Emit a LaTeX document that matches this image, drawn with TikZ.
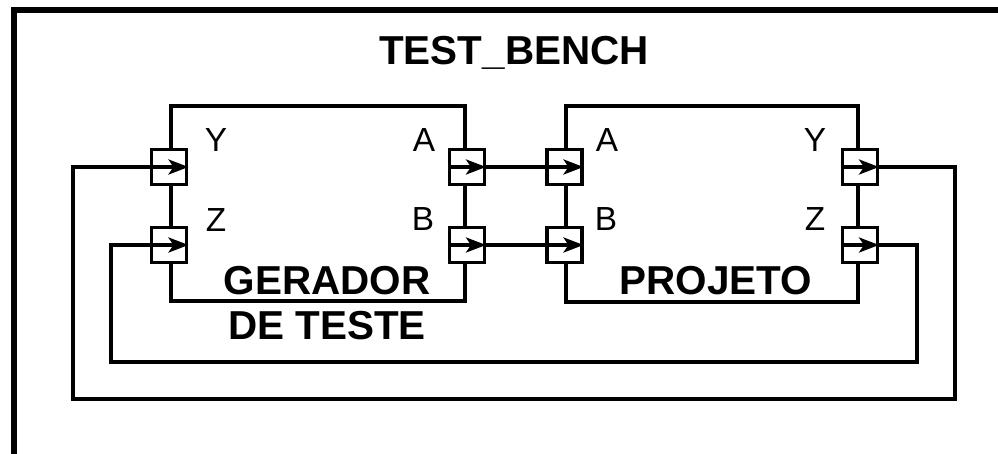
\documentclass[tikz,border=0pt]{standalone}
\usepackage{fontspec}
\setmainfont{Liberation Sans}
\usepackage{tikz}
\usetikzlibrary{arrows.meta, positioning, calc}

\begin{document}
\begin{tikzpicture}[x=0.2mm, y=-0.2mm, line width=2pt,
    box/.style={rectangle, draw, line width=2pt},
    port/.style={rectangle, draw, fill=white, minimum size=7mm, inner sep=0pt, line width=2pt},
    lbl/.style={inner sep=0pt, font=\fontsize{19}{22}\selectfont},
    blockname/.style={inner sep=0pt, align=center, font=\fontsize{23}{26}\selectfont\bfseries},
    sig/.style={-{Stealth[length=4mm, width=3mm, inset=1mm]}}]

    \useasboundingbox (0,0) rectangle (998,454);
    \clip (0,0) rectangle (998,454);
    \draw[line width=3.3pt] (14,10) rectangle (1012,458);

    \node (Bench) [blockname] at (514,53) {TEST\_BENCH};

    % blocks
    \node (Gerador) [box, minimum width=58.8mm, minimum height=39mm] at (318,203.5) {};
    \node (Projeto) [box, minimum width=58.4mm, minimum height=39.2mm] at (712,204) {};

    \node (GerName) [blockname] at (327,303) {GERADOR\\DE TESTE};
    \node (ProjName) [blockname] at (716,281) {PROJETO};

    % ports
    \node (GerY) [port] at (Gerador.west |- 0,167) {};
    \node (GerZ) [port] at (Gerador.west |- 0,245) {};
    \node (GerA) [port] at (Gerador.east |- 0,167) {};
    \node (GerB) [port] at (Gerador.east |- 0,245) {};
    \node (ProjA) [port] at (Projeto.west |- 0,167) {};
    \node (ProjB) [port] at (Projeto.west |- 0,245) {};
    \node (ProjY) [port] at (Projeto.east |- 0,167) {};
    \node (ProjZ) [port] at (Projeto.east |- 0,245) {};

    \node (GerYlbl) [lbl] at (216,140) {Y};
    \node (GerZlbl) [lbl] at (216,220) {Z};
    \node (GerAlbl) [lbl] at (424,140) {A};
    \node (GerBlbl) [lbl] at (423,219) {B};
    \node (ProjAlbl) [lbl] at (607,140) {A};
    \node (ProjBlbl) [lbl] at (606,219) {B};
    \node (ProjYlbl) [lbl] at (815,140) {Y};
    \node (ProjZlbl) [lbl] at (815,219) {Z};

    % signals
    \draw[sig] (GerA.west) -- (GerA.east);
    \draw[sig] (GerB.west) -- (GerB.east);
    \draw[sig] (GerA.east) -- (ProjA.east);
    \draw[sig] (GerB.east) -- (ProjB.east);
    \draw[sig] (ProjY.west) -- (ProjY.east);
    \draw[sig] (ProjZ.west) -- (ProjZ.east);

    \coordinate (LoopY) at (955,399);
    \coordinate (LoopYend) at (73,399);
    \coordinate (LoopZ) at (917,362);
    \coordinate (LoopZend) at (111,362);

    \draw[sig] (ProjY.east) -| (LoopY) -- (LoopYend) |- (GerY.east);
    \draw[sig] (ProjZ.east) -| (LoopZ) -- (LoopZend) |- (GerZ.east);
\end{tikzpicture}
\end{document}
